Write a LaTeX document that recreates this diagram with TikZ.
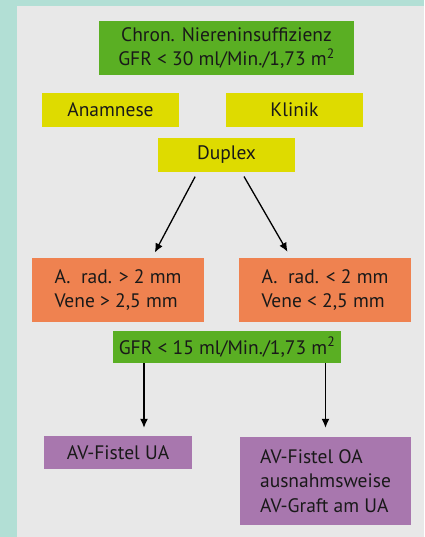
\documentclass[tikz,border=0pt]{standalone}
\usepackage{fontspec}
\setmainfont{PT Sans}
\usetikzlibrary{arrows.meta}
\usetikzlibrary{positioning}
\definecolor{teal}{HTML}{B2DFD5}
\definecolor{panel}{HTML}{E8E8E8}
\definecolor{gruen}{HTML}{5AAF23}
\definecolor{gelb}{HTML}{DEDB00}
\definecolor{orange}{HTML}{EF8250}
\definecolor{lila}{HTML}{A877AE}
\tikzset{>={Latex[length=9pt,width=8pt]}}

\begin{document}
\begin{tikzpicture}[x=1pt, y=-1pt, box/.style={inner sep=0pt, font=\fontsize{19.5}{24.5}\selectfont, text=black!90}, gbox/.style={box, fill=gruen}, ybox/.style={box, fill=gelb, minimum width=137pt, minimum height=34pt}, obox/.style={box, fill=orange, align=left, minimum width=172pt, minimum height=64pt}, pbox/.style={box, fill=lila, align=left}, pfeil/.style={->, line width=1.3pt}]
		\fill[teal] (0,0) rectangle (424,537);
		\fill[panel] (17,6) rectangle (424,537);
		\node[gbox, align=center, minimum width=255pt, minimum height=54pt] (ckd) at (226.5,48) {Chron. Niereninsuffizienz\\GFR < 30 ml/Min./1,73 m\textsuperscript{2}};
		\node[ybox] (anam) at (110.5,110) {Anamnese};
		\node[ybox] (klin) at (294.5,110) {Klinik};
		\node[ybox] (dup) at (226.5,155) {Duplex};
		\node[obox] (gross) at (118,290) {A.\ \ rad. > 2 mm\\Vene > 2,5 mm};
		\node[obox] (klein) at (325,290) {A.\ \ rad. < 2 mm\\Vene < 2,5 mm};
		\node[gbox, minimum width=228pt, minimum height=32pt] (gfr) at (227,347) {GFR < 15 ml/Min./1,73 m\textsuperscript{2}};
		\node[pbox, minimum width=148pt, minimum height=33pt] (ua) at (118,452.5) {AV-Fistel UA};
		\node[pbox, minimum width=171pt, minimum height=88pt] (oa) at (325.5,481) {AV-Fistel OA\\ausnahmsweise\\AV-Graft am UA};
		\draw[pfeil, shorten <=5pt, shorten >=6pt] ([xshift=-29pt]dup.south) -- ([xshift=34pt]gross.north);
		\draw[pfeil, shorten <=5pt, shorten >=7pt] ([xshift=15pt]dup.south) -- ([xshift=-34pt]klein.north);
		\draw[pfeil, shorten >=8pt] (gfr.south -| ua.north) ++(26pt,0) -- ([xshift=26pt]ua.north);
		\draw[pfeil, shorten >=9pt] (gfr.south -| oa.north) -- (oa.north);
	\end{tikzpicture}
\end{document}
